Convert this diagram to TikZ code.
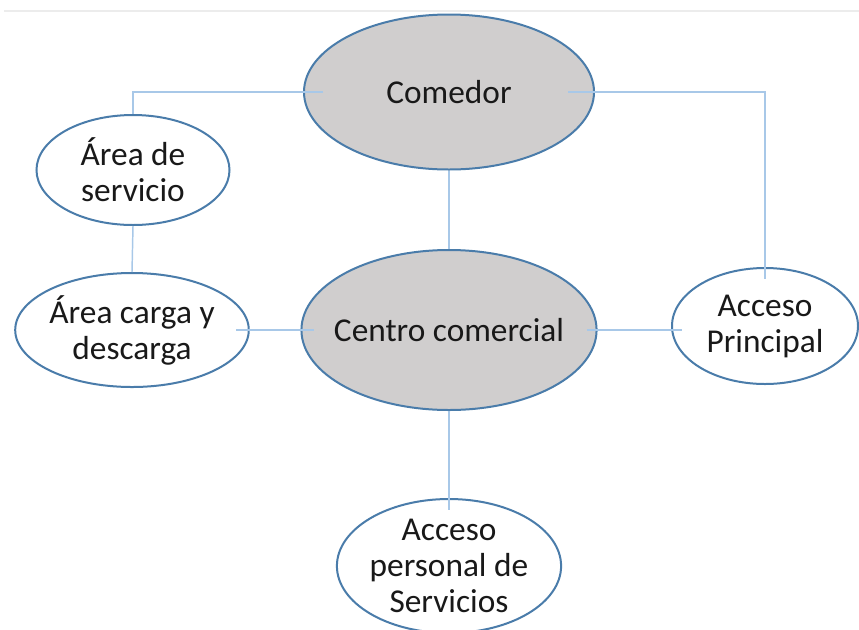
\documentclass[tikz,border=0pt]{standalone}
\usepackage{fontspec}
\setmainfont{Carlito}
\usetikzlibrary{shapes.geometric}

\definecolor{rimblue}{HTML}{4A7CAA}
\definecolor{linkblue}{HTML}{A8C8E8}
\definecolor{hubgrey}{HTML}{D0CECE}

\tikzset{
  place/.style={ellipse,draw=rimblue,line width=1.5pt,fill=white,inner sep=0pt,
    align=center,font=\fontsize{25}{27}\selectfont,text=black!90},
  hub/.style={place,fill=hubgrey},
  link/.style={draw=linkblue,line width=1.1pt}
}

\begin{document}
\begin{tikzpicture}[x=0.75pt,y=-0.75pt]
  \useasboundingbox (0,0) rectangle (859,629);
  \draw[gray!15,line width=1.5pt] (4,11) -- (859,11);
  % central spaces
  \node[hub,minimum width=290*0.75pt,minimum height=155*0.75pt] (com) at (449,92) {Comedor};
  \node[hub,inner xsep=-8pt,minimum width=292*0.75pt,minimum height=160*0.75pt] (centro) at (449,330) {Centro comercial};
  % surrounding spaces
  \node[place,minimum width=193*0.75pt,minimum height=110*0.75pt] (serv) at (133,170) {Área de\\servicio};
  \node[place,minimum width=231*0.75pt,minimum height=114*0.75pt] (carga) at (132,330) {Área carga y\\descarga};
  \node[place,minimum width=186*0.75pt,minimum height=116*0.75pt] (princ) at (765,326) {Acceso\\Principal};
  \node[place,minimum width=222*0.75pt,minimum height=134*0.75pt] (pers) at (449,566) {Acceso\\personal de\\Servicios};
  % links
  \draw[link,shorten <=-15pt] (com.west) -| (serv.north);
  \draw[link,shorten <=-20pt,shorten >=-9pt] (com.east) -| (princ.north);
  \draw[link] (com.south) -- (centro.north);
  \draw[link] (serv.south) -- (carga.north);
  \draw[link,shorten <=-10pt,shorten >=-10pt] (carga.east) -- (centro.west);
  \draw[link,shorten <=-8pt,shorten >=-8pt] (centro.east) -- (centro.east -| princ.west);
  \draw[link,shorten >=-9pt] (centro.south) -- (pers.north);
\end{tikzpicture}
\end{document}
